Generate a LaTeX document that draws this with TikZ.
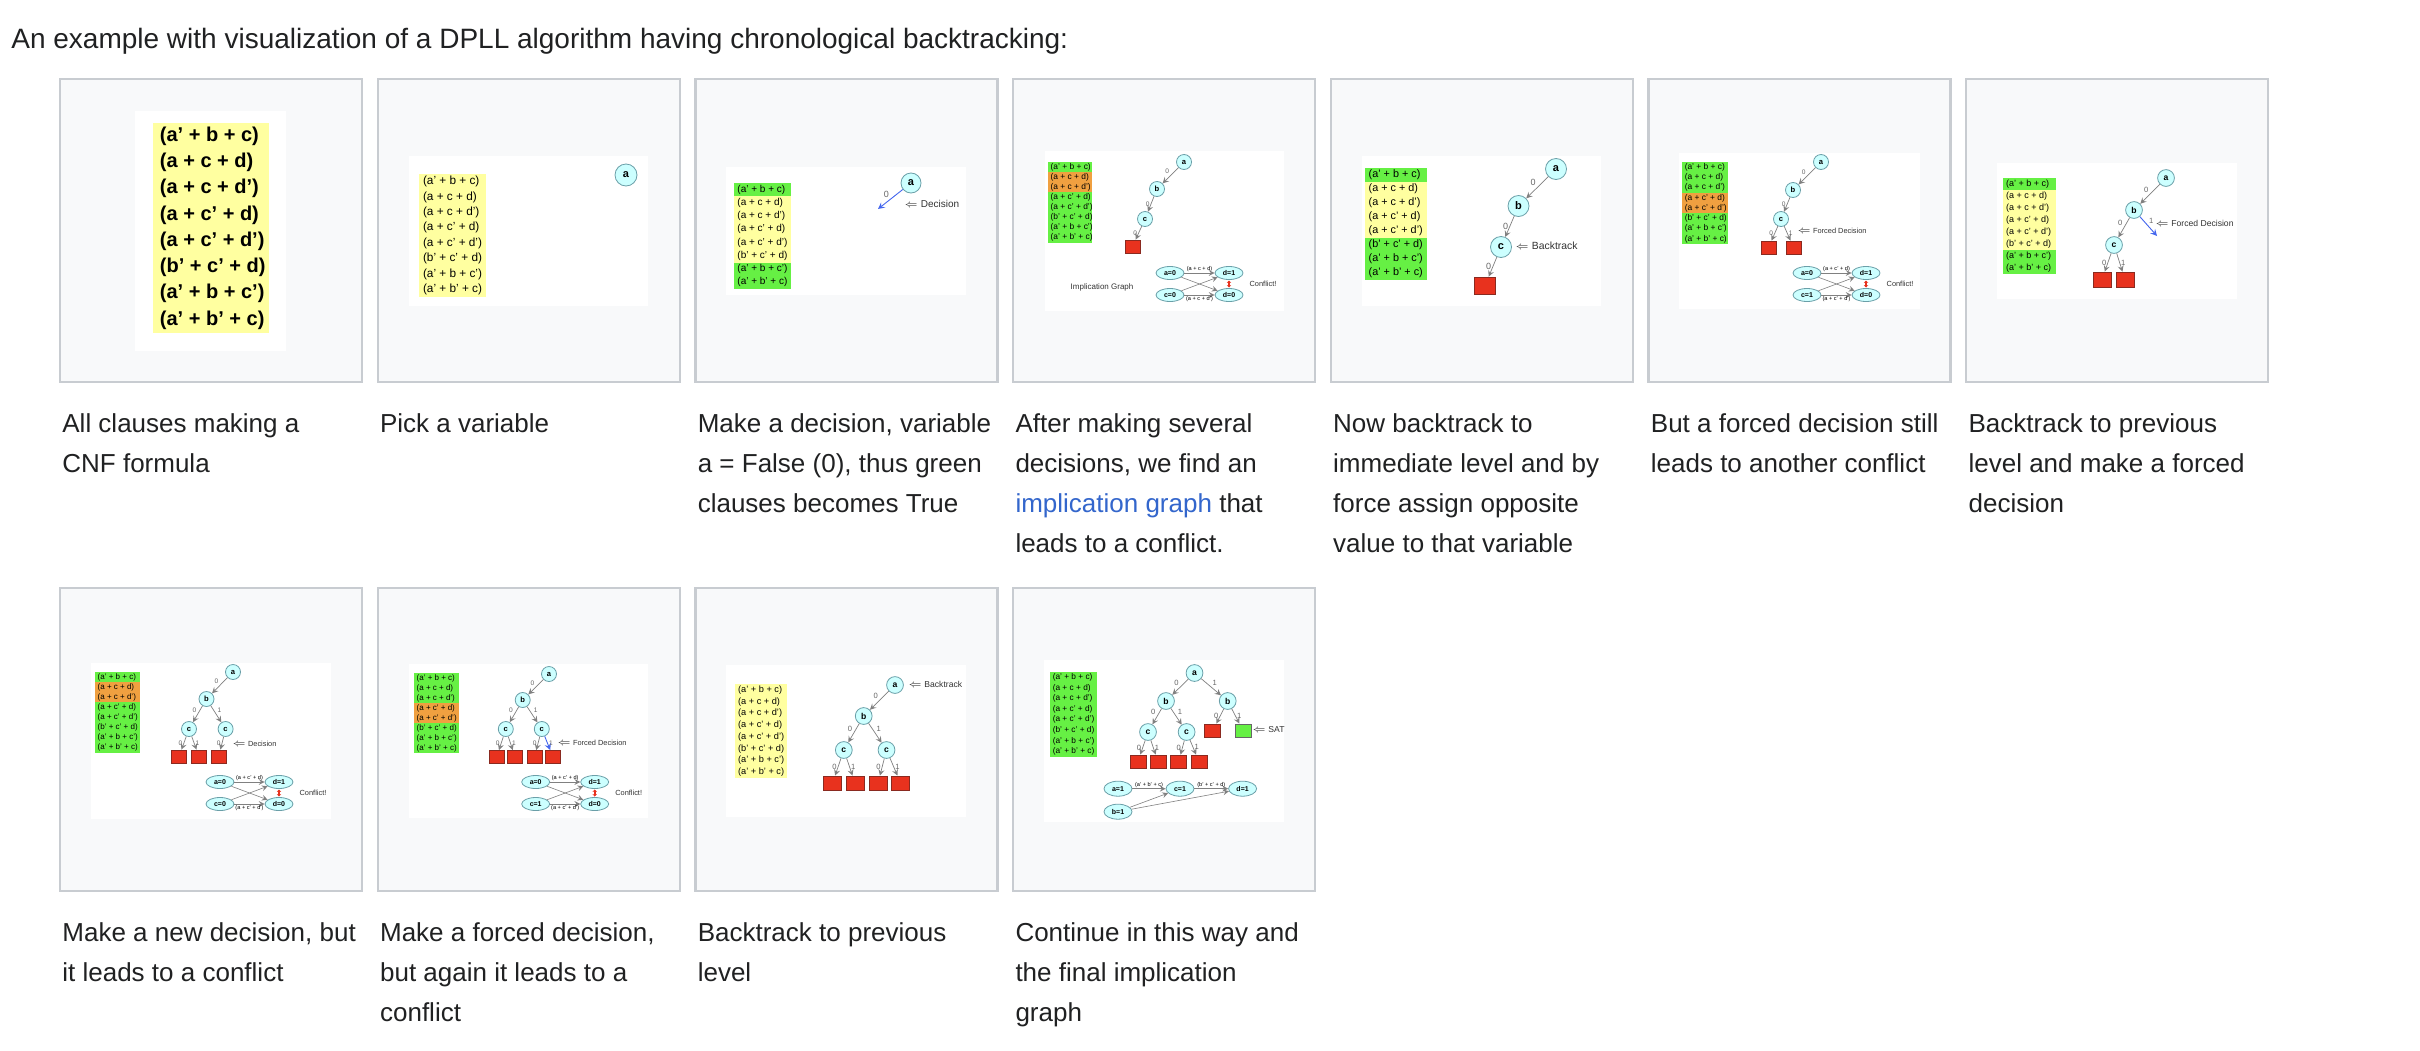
\documentclass[tikz,border=0pt]{standalone}
\usepackage{fontspec}
\setmainfont{Liberation Sans}
\usetikzlibrary{shapes.geometric,arrows.meta}

\definecolor{framegray}{HTML}{C8CCD1}
\definecolor{framebg}{HTML}{F8F9FA}
\definecolor{ink}{HTML}{202122}
\definecolor{linkblue}{HTML}{3366CC}
\definecolor{yel}{HTML}{FFFFA0}
\definecolor{grn}{HTML}{66F044}
\definecolor{org}{HTML}{F0A040}
\definecolor{varfill}{HTML}{CCFFFF}
\definecolor{vardraw}{HTML}{6A9FA8}
\definecolor{leafred}{HTML}{E8321E}
\definecolor{leafdraw}{HTML}{8A2A20}
\definecolor{edgegray}{HTML}{808080}
\definecolor{decblue}{HTML}{4466EE}

\newcommand\fsz[1]{\fontsize{#1}{#1}\selectfont}
\newcommand\clausetxt[1]{\ifcase#1\or(a' + b + c)\or(a + c + d)\or(a + c + d')\or(a + c' + d)\or(a + c' + d')\or(b' + c' + d)\or(a' + b + c')\or(a' + b' + c)\fi}
% name, x, y, width, row height, font, colours
\newcommand\clauselist[7]{%
  \pgfmathsetmacro\clx{#4*0.03}%
  \pgfmathsetmacro\clt{#4*0.44}%
  \foreach \col [count=\i] in {#7}
    \node[clause, fill=\col, inner xsep=\clx pt, minimum height=#5*0.5pt, font=#6] (#1\i) at ({#2+#4/2}, {#3+(\i-0.5)*#5}) {\makebox[\clt pt][l]{\clausetxt{\i}}};}
% suffix, x, y, value of c, upper clause, lower clause
\newcommand\conflictgraph[6]{%
  \node[impl] (ia#1) at (#2,#3) {a=0};
  \node[impl] (id#1) at ({#2+59},#3) {d=1};
  \node[impl] (ic#1) at (#2,{#3+22}) {c=#4};
  \node[impl] (ie#1) at ({#2+59},{#3+22}) {d=0};
  \node[note, anchor=center] (cf#1) at ({#2+93},{#3+11}) {Conflict!};
  \path (ia#1) edge[iedge] node[ilbl, above] {#5} (id#1)
        (ic#1) edge[iedge] node[ilbl, below] {#6} (ie#1)
        (ia#1) edge[iedge] (ie#1)
        (ic#1) edge[iedge] (id#1)
        (ie#1) edge[cflict] (id#1);}

\begin{document}
\begin{tikzpicture}[x=0.5pt, y=-0.5pt, >=stealth,
    frame/.style={draw=framegray, fill=framebg, line width=1.2pt},
    caption/.style={anchor=north west, inner sep=0pt, align=left, font=\fontsize{13}{20}\selectfont, text=ink},
    clause/.style={inner ysep=0pt, text=black},
    var/.style={circle, draw=vardraw, fill=varfill, inner sep=0pt, line width=0.4pt},
    leaf/.style={rectangle, draw=leafdraw, fill=leafred, inner sep=0pt, line width=0.4pt},
    sat/.style={leaf, fill=grn, draw=black!60},
    tedge/.style={->, draw=edgegray, line width=0.35pt},
    dedge/.style={->, draw=decblue, line width=0.45pt},
    lbl/.style={inner sep=0.6pt, text=black!60},
    note/.style={anchor=west, inner sep=0pt, text=black!80},
    impl/.style={ellipse, draw=vardraw, fill=varfill, inner sep=0pt, minimum width=14pt, minimum height=6.5pt, font=\bfseries\fsz{3.5}},
    iedge/.style={->, draw=edgegray, line width=0.3pt},
    ilbl/.style={inner sep=0.5pt, font=\fsz{2.8}},
    cflict/.style={{Stealth[length=1.2pt,width=2.2pt]}-{Stealth[length=1.2pt,width=2.2pt]}, draw=leafred, line width=0.9pt, shorten <=0.3pt, shorten >=0.3pt},
    small tree/.style={var/.append style={minimum size=7.5pt, font=\bfseries\fsz{3.8}},
      leaf/.append style={minimum width=7.5pt, minimum height=6.5pt},
      lbl/.append style={font=\fsz{3.3}}, note/.append style={font=\fsz{3.7}}},
    mid tree/.style={var/.append style={minimum size=8.4pt, font=\bfseries\fsz{4.3}},
      leaf/.append style={minimum width=8.5pt, minimum height=7pt},
      lbl/.append style={font=\fsz{3.8}}, note/.append style={font=\fsz{4.3}}},
    big tree/.style={var/.append style={minimum size=10.5pt, font=\bfseries\fsz{5.5}},
      leaf/.append style={minimum width=10.75pt, minimum height=8.5pt},
      lbl/.append style={font=\fsz{4.5}}, note/.append style={font=\fsz{5.2}}}]

\fill[white] (0,0) rectangle (2420,1050);
\useasboundingbox (0,0) rectangle (2420,1050);

\node[anchor=base west, inner sep=0pt, font=\fsz{14}, text=ink] (title) at (11,48)
  {An example with visualization of a DPLL algorithm having chronological backtracking:};

% frames
\foreach \i in {0,...,6} \draw[frame] ({60+317.7*\i},79) rectangle +(302,303);
\foreach \i in {0,...,3} \draw[frame] ({60+317.7*\i},588) rectangle +(302,303);
\foreach \xa/\ya/\xb/\yb in {135/111/286/351, 409/156/648/306, 726/167/966/295, 1045/151/1284/311,
    1362/156/1601/306, 1679/153/1920/309, 1997/163/2237/299, 91/663/331/819, 409/664/648/818,
    726/665/966/817, 1044/660/1284/822}
  \fill[white] (\xa,\ya) rectangle (\xb,\yb);

% 1
\clauselist{k}{153}{123}{116}{26.25}{\bfseries\fsz{10}}{yel,yel,yel,yel,yel,yel,yel,yel}

% 2
\clauselist{l}{419}{174}{67}{15.4}{\fsz{5.9}}{yel,yel,yel,yel,yel,yel,yel,yel}
\begin{scope}[big tree]
  \node[var, minimum size=11pt] (a2) at (626,175) {a};
\end{scope}

% 3
\clauselist{m}{734}{183}{57}{13.25}{\fsz{5}}{grn,yel,yel,yel,yel,yel,grn,grn}
\begin{scope}[big tree]
  \node[var, minimum size=10pt] (a3) at (911,183) {a};
  \coordinate (d3) at (878,209);
  \path (a3) edge[dedge] node[lbl, above left] {0} (d3);
  \node[note, font=\fsz{5}] (n3) at (904,204) {$\Leftarrow$ Decision};
\end{scope}

% 4
\clauselist{n}{1048}{162}{44}{10.1}{\fsz{4.2}}{grn,org,org,grn,grn,grn,grn,grn}
\begin{scope}[small tree]
  \node[var] (a4) at (1184,162) {a};
  \node[var] (b4) at (1157,189) {b};
  \node[var] (c4) at (1145,219) {c};
  \node[leaf] (x4) at (1132.5,246.5) {};
  \path (a4) edge[tedge] node[lbl, above left] {0} (b4)
        (b4) edge[tedge] node[lbl, left] {0} (c4)
        (c4) edge[tedge] node[lbl, left] {0} (x4);
  \node[note, anchor=center, font=\fsz{4}] (ig4) at (1102,287) {Implication Graph};
  \conflictgraph{4}{1170}{273}{0}{(a + c + d)}{(a + c + d')}
\end{scope}

% 5
\clauselist{o}{1365}{168}{62}{14}{\fsz{5.4}}{grn,yel,yel,yel,yel,grn,grn,grn}
\begin{scope}[big tree]
  \node[var] (a5) at (1556,169) {a};
  \node[var] (b5) at (1518.5,206) {b};
  \node[var] (c5) at (1501,247) {c};
  \node[leaf] (x5) at (1485,285.5) {};
  \path (a5) edge[tedge] node[lbl, above left] {0} (b5)
        (b5) edge[tedge] node[lbl, left] {0} (c5)
        (c5) edge[tedge] node[lbl, left] {0} (x5);
  \node[note] (n5) at (1515,246) {$\Leftarrow$ Backtrack};
\end{scope}

% 6
\clauselist{p}{1682}{162}{46}{10.25}{\fsz{4.2}}{grn,grn,grn,org,org,grn,grn,grn}
\begin{scope}[small tree]
  \node[var] (a6) at (1821,162) {a};
  \node[var] (b6) at (1793,190) {b};
  \node[var] (c6) at (1781,219) {c};
  \node[leaf] (x6a) at (1768.5,247.5) {};
  \node[leaf] (x6b) at (1793.5,247.5) {};
  \path (a6) edge[tedge] node[lbl, above left] {0} (b6)
        (b6) edge[tedge] node[lbl, left] {0} (c6)
        (c6) edge[tedge] node[lbl, left] {0} (x6a)
        (c6) edge[tedge] node[lbl, right] {1} (x6b);
  \node[note] (n6) at (1797,231) {$\Leftarrow$ Forced Decision};
  \conflictgraph{6}{1807}{273}{1}{(a + c' + d)}{(a + c' + d')}
\end{scope}

% 7
\clauselist{q}{2003}{178}{53}{12}{\fsz{4.5}}{grn,yel,yel,yel,yel,yel,grn,grn}
\begin{scope}[mid tree]
  \node[var] (a7) at (2166,178) {a};
  \node[var] (b7) at (2134,210) {b};
  \node[var] (c7) at (2114,245) {c};
  \node[leaf, minimum width=9pt, minimum height=7.5pt] (x7a) at (2102,279.5) {};
  \node[leaf, minimum width=9pt, minimum height=7.5pt] (x7b) at (2125,279.5) {};
  \coordinate (f7) at (2157,236);
  \path (a7) edge[tedge] node[lbl, above left] {0} (b7)
        (b7) edge[tedge] node[lbl, above left] {0} (c7)
        (c7) edge[tedge] node[lbl, left] {0} (x7a)
        (c7) edge[tedge] node[lbl, right] {1} (x7b)
        (b7) edge[dedge] node[lbl, pos=0.45, above right] {1} (f7);
  \node[note] (n7) at (2155,223) {$\Leftarrow$ Forced Decision};
\end{scope}

% 8
\clauselist{r}{95}{672}{45}{10.1}{\fsz{4}}{grn,org,org,grn,grn,grn,grn,grn}
\begin{scope}[small tree]
  \node[var] (a8) at (233,672) {a};
  \node[var] (b8) at (206.5,699) {b};
  \node[var] (c8a) at (189,729) {c};
  \node[var] (c8b) at (225.6,729) {c};
  \node[leaf] (x8a) at (179,756.5) {};
  \node[leaf] (x8b) at (199,756.5) {};
  \node[leaf] (x8c) at (218.7,756.5) {};
  \path (a8) edge[tedge] node[lbl, above left] {0} (b8)
        (b8) edge[tedge] node[lbl, above left] {0} (c8a)
        (b8) edge[tedge] node[lbl, above right] {1} (c8b)
        (c8a) edge[tedge] node[lbl, left] {0} (x8a)
        (c8a) edge[tedge] node[lbl, right] {1} (x8b)
        (c8b) edge[tedge] node[lbl, left] {0} (x8c);
  \node[note] (n8) at (232,744) {$\Leftarrow$ Decision};
  \conflictgraph{8}{220}{782}{0}{(a + c' + d)}{(a + c' + d')}
\end{scope}

% 9
\clauselist{s}{414}{673}{44.5}{10}{\fsz{4}}{grn,grn,grn,org,org,grn,grn,grn}
\begin{scope}[small tree]
  \node[var] (a9) at (549,674) {a};
  \node[var] (b9) at (522.7,700) {b};
  \node[var] (c9a) at (505.8,729) {c};
  \node[var] (c9b) at (541.8,729) {c};
  \node[leaf] (x9a) at (496.7,757) {};
  \node[leaf] (x9b) at (515,757) {};
  \node[leaf] (x9c) at (534.4,757) {};
  \node[leaf] (x9d) at (553,757) {};
  \path (a9) edge[tedge] node[lbl, above left] {0} (b9)
        (b9) edge[tedge] node[lbl, above left] {0} (c9a)
        (b9) edge[tedge] node[lbl, above right] {1} (c9b)
        (c9a) edge[tedge] node[lbl, left] {0} (x9a)
        (c9a) edge[tedge] node[lbl, right] {1} (x9b)
        (c9b) edge[tedge] node[lbl, left] {0} (x9c)
        (c9b) edge[dedge] node[lbl, right] {1} (x9d);
  \node[note] (n9) at (557,743) {$\Leftarrow$ Forced Decision};
  \conflictgraph{9}{535.7}{782}{1}{(a + c' + d)}{(a + c' + d')}
\end{scope}

% 10
\clauselist{t}{735}{684}{52}{11.75}{\fsz{4.6}}{yel,yel,yel,yel,yel,yel,yel,yel}
\begin{scope}[mid tree]
  \node[var] (a10) at (895,685) {a};
  \node[var] (b10) at (863.7,716) {b};
  \node[var] (c10a) at (843.8,750) {c};
  \node[var] (c10b) at (886.5,750) {c};
  \node[leaf, minimum width=9pt] (x10a) at (832.6,783) {};
  \node[leaf, minimum width=9pt] (x10b) at (855,783) {};
  \node[leaf, minimum width=9pt] (x10c) at (878,783) {};
  \node[leaf, minimum width=9pt] (x10d) at (900.6,783) {};
  \path (a10) edge[tedge] node[lbl, above left] {0} (b10)
        (b10) edge[tedge] node[lbl, above left] {0} (c10a)
        (b10) edge[tedge] node[lbl, above right] {1} (c10b)
        (c10a) edge[tedge] node[lbl, left] {0} (x10a)
        (c10a) edge[tedge] node[lbl, right] {1} (x10b)
        (c10b) edge[tedge] node[lbl, left] {0} (x10c)
        (c10b) edge[tedge] node[lbl, right] {1} (x10d);
  \node[note] (n10) at (908,684) {$\Leftarrow$ Backtrack};
\end{scope}

% 11
\clauselist{u}{1050}{672}{46.7}{10.6}{\fsz{4.15}}{grn,grn,grn,grn,grn,grn,grn,grn}
\begin{scope}[mid tree, leaf/.append style={minimum width=8pt, minimum height=6.5pt}]
  \node[var] (a11) at (1194.5,673) {a};
  \node[var] (b11a) at (1166,701) {b};
  \node[var] (b11b) at (1227.7,701) {b};
  \node[var] (c11a) at (1148,732) {c};
  \node[var] (c11b) at (1186.6,732) {c};
  \node[leaf] (x11a) at (1138,761.5) {};
  \node[leaf] (x11b) at (1158,761.5) {};
  \node[leaf] (x11c) at (1178.7,761.5) {};
  \node[leaf] (x11d) at (1199,761.5) {};
  \node[leaf] (x11e) at (1212.8,730.5) {};
  \node[sat] (x11f) at (1243,730.5) {};
  \path (a11) edge[tedge] node[lbl, above left] {0} (b11a)
        (a11) edge[tedge] node[lbl, above right] {1} (b11b)
        (b11a) edge[tedge] node[lbl, above left] {0} (c11a)
        (b11a) edge[tedge] node[lbl, above right] {1} (c11b)
        (b11b) edge[tedge] node[lbl, left] {0} (x11e)
        (b11b) edge[tedge] node[lbl, right] {1} (x11f)
        (c11a) edge[tedge] node[lbl, left] {0} (x11a)
        (c11a) edge[tedge] node[lbl, right] {1} (x11b)
        (c11b) edge[tedge] node[lbl, left] {0} (x11c)
        (c11b) edge[tedge] node[lbl, right] {1} (x11d);
  \node[note] (n11) at (1252,730) {$\Leftarrow$ SAT};
  \node[impl, minimum width=14pt, minimum height=7.5pt] (ia11) at (1118,788.7) {a=1};
  \node[impl, minimum width=14pt, minimum height=7.5pt] (ic11) at (1180,788.7) {c=1};
  \node[impl, minimum width=14pt, minimum height=7.5pt] (id11) at (1242.6,788.7) {d=1};
  \node[impl, minimum width=14pt, minimum height=7.5pt] (ib11) at (1118,811.7) {b=1};
  \path (ia11) edge[iedge] node[ilbl, above] {(a' + b' + c)} (ic11)
        (ic11) edge[iedge] node[ilbl, above] {(b' + c' + d)} (id11)
        (ib11) edge[iedge] (ic11)
        (ib11) edge[iedge] (id11);
\end{scope}

% captions
\node[caption] (t1) at (62,413) {All clauses making a\\CNF formula};
\node[caption] (t2) at (379.7,413) {Pick a variable};
\node[caption] (t3) at (697.4,413) {Make a decision, variable\\a = False (0), thus green\\clauses becomes True};
\node[caption] (t4) at (1015.1,413) {After making several\\decisions, we find an\\\textcolor{linkblue}{implication graph} that\\leads to a conflict.};
\node[caption] (t5) at (1332.8,413) {Now backtrack to\\immediate level and by\\force assign opposite\\value to that variable};
\node[caption] (t6) at (1650.5,413) {But a forced decision still\\leads to another conflict};
\node[caption] (t7) at (1968.2,413) {Backtrack to previous\\level and make a forced\\decision};
\node[caption] (t8) at (62,922) {Make a new decision, but\\it leads to a conflict};
\node[caption] (t9) at (379.7,922) {Make a forced decision,\\but again it leads to a\\conflict};
\node[caption] (t10) at (697.4,922) {Backtrack to previous\\level};
\node[caption] (t11) at (1015.1,922) {Continue in this way and\\the final implication\\graph};
\end{tikzpicture}
\end{document}
